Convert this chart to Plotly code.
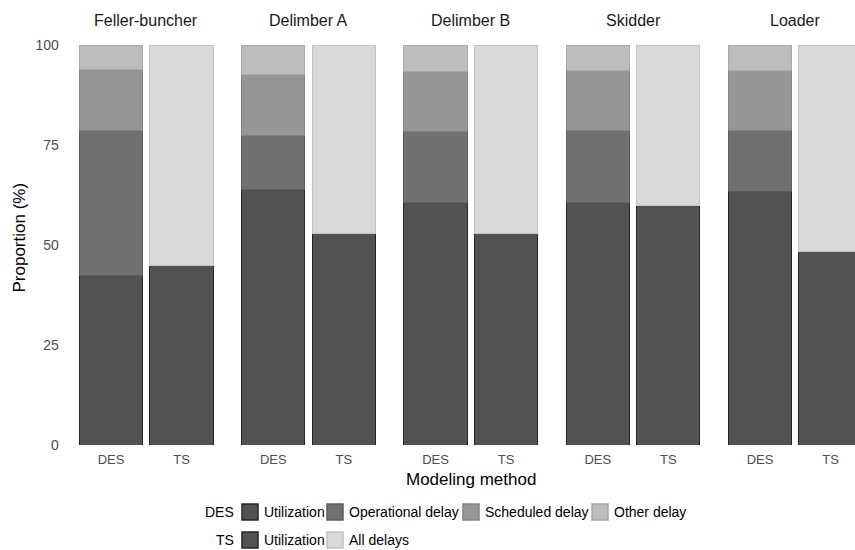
import plotly.graph_objects as go

# Machines (facets) and modelling methods (bars within each facet)
machines = ["Feller-buncher", "Delimber A", "Delimber B", "Skidder", "Loader"]
methods = ["DES", "TS"]

# DES breakdown, % of scheduled machine time
des_utilization = [42.3, 64.0, 60.6, 60.7, 63.5]
des_operational = [36.4, 13.5, 17.7, 18.0, 15.1]
des_scheduled = [15.2, 15.2, 15.0, 15.0, 15.1]
des_other = [6.1, 7.3, 6.7, 6.3, 6.3]

# TS breakdown
ts_utilization = [44.8, 52.9, 52.9, 59.8, 48.5]
ts_all_delays = [55.2, 47.1, 47.1, 40.2, 51.5]

y_ticks = [0, 25, 50, 75, 100]

# fill / outline per component
C_UTIL, L_UTIL = "#525252", "#262626"
C_OPER, L_OPER = "#717171", "#5e5e5e"
C_SCHED, L_SCHED = "#969696", "#848484"
C_OTHER, L_OTHER = "#bdbdbd", "#a9a9a9"
C_ALL, L_ALL = "#d9d9d9", "#c3c3c3"

W, H = 855, 550
T, B = 45, 105          # plot area top/bottom margins (px)
PANEL_X0 = 68.7         # left edge of first panel (px)
PITCH = 162.25          # panel-to-panel distance (px)
UNIT = 70.5             # px per category step
PANEL_W = 2.2 * UNIT    # category range -0.6 .. 1.6

fig = go.Figure()

for i, m in enumerate(machines):
    ax = "" if i == 0 else str(i + 1)
    xref = "x" + ax
    segments = [
        ([des_utilization[i], ts_utilization[i]], [C_UTIL, C_UTIL], [L_UTIL, L_UTIL], "Utilization"),
        ([des_operational[i], None], C_OPER, L_OPER, "Operational delay"),
        ([des_scheduled[i], None], C_SCHED, L_SCHED, "Scheduled delay"),
        ([des_other[i], ts_all_delays[i]], [C_OTHER, C_ALL], [L_OTHER, L_ALL], "Other delay / All delays"),
    ]
    for vals, fcs, lcs, name in segments:
        fig.add_trace(go.Bar(
            x=methods, y=vals, name=name, xaxis=xref, yaxis="y",
            width=0.9, marker=dict(color=fcs, line=dict(color=lcs, width=1)),
            showlegend=False, hoverinfo="x+y+name",
        ))

    left = PANEL_X0 + i * PITCH
    right = min(left + PANEL_W, W)
    x_end = -0.6 + (right - left) / UNIT
    fig.layout["xaxis" + ax] = dict(
        domain=[left / W, right / W], anchor="y", range=[-0.6, x_end],
        type="category", showgrid=False, zeroline=False, showline=False,
        ticks="outside", ticklen=2, tickcolor="rgba(0,0,0,0)",
        tickfont=dict(family="Liberation Sans, Arial", size=13, color="#4d4d4d"),
        fixedrange=True,
    )
    # facet strip label
    fig.add_annotation(
        x=0.5, xref=xref, y=1 + (T - 20) / (H - T - B), yref="paper",
        text=m, showarrow=False, yanchor="middle", xanchor="center",
        font=dict(family="Liberation Sans, Arial", size=16, color="#1a1a1a"),
    )

fig.update_layout(
    width=W, height=H, barmode="stack",
    margin=dict(l=0, r=0, t=T, b=B, autoexpand=False),
    paper_bgcolor="white", plot_bgcolor="white",
    yaxis=dict(
        domain=[0, 1], range=[0, 100], tickvals=y_ticks,
        showgrid=False, zeroline=False, showline=False,
        ticks="outside", ticklen=6, tickcolor="rgba(0,0,0,0)",
        tickfont=dict(family="Liberation Sans, Arial", size=14, color="#4d4d4d"),
        anchor="x", fixedrange=True,
    ),
    showlegend=False,
    font=dict(family="Liberation Sans, Arial"),
)

plot_h = H - T - B
# axis titles
fig.add_annotation(
    x=470.7 / W, xref="paper", y=(T + plot_h - 479) / plot_h, yref="paper",
    text="Modeling method", showarrow=False, xanchor="center", yanchor="middle",
    font=dict(size=17, color="black"),
)
fig.add_annotation(
    x=19 / W, xref="paper", y=(T + plot_h - 237.5) / plot_h, yref="paper",
    text="Proportion (%)", textangle=-90, showarrow=False,
    xanchor="center", yanchor="middle", font=dict(size=17, color="black"),
)

# legend: one row per method, keys built from the same colour table
legend_rows = [
    ("DES", 512, [("Utilization", C_UTIL, L_UTIL), ("Operational delay", C_OPER, L_OPER),
                  ("Scheduled delay", C_SCHED, L_SCHED), ("Other delay", C_OTHER, L_OTHER)]),
    ("TS", 540, [("Utilization", C_UTIL, L_UTIL), ("All delays", C_ALL, L_ALL)]),
]
key_x = [242, 327, 463, 592]
for title, yc, items in legend_rows:
    fig.add_annotation(
        x=236 / W, xref="paper", y=(T + plot_h - yc) / plot_h, yref="paper",
        text=title, showarrow=False, xanchor="right", yanchor="middle",
        font=dict(size=14, color="black"),
    )
    for (label, fc, lc), kx in zip(items, key_x):
        fig.add_shape(
            type="rect", xref="paper", yref="paper",
            x0=kx / W, x1=(kx + 16) / W,
            y0=(T + plot_h - (yc + 8)) / plot_h, y1=(T + plot_h - (yc - 8)) / plot_h,
            fillcolor=fc, line=dict(color=lc, width=1.5),
        )
        fig.add_annotation(
            x=(kx + 20) / W, xref="paper", y=(T + plot_h - yc) / plot_h, yref="paper",
            text=label, showarrow=False, xanchor="left", yanchor="middle",
            font=dict(size=14, color="black"),
        )

fig.write_html("out.html")
